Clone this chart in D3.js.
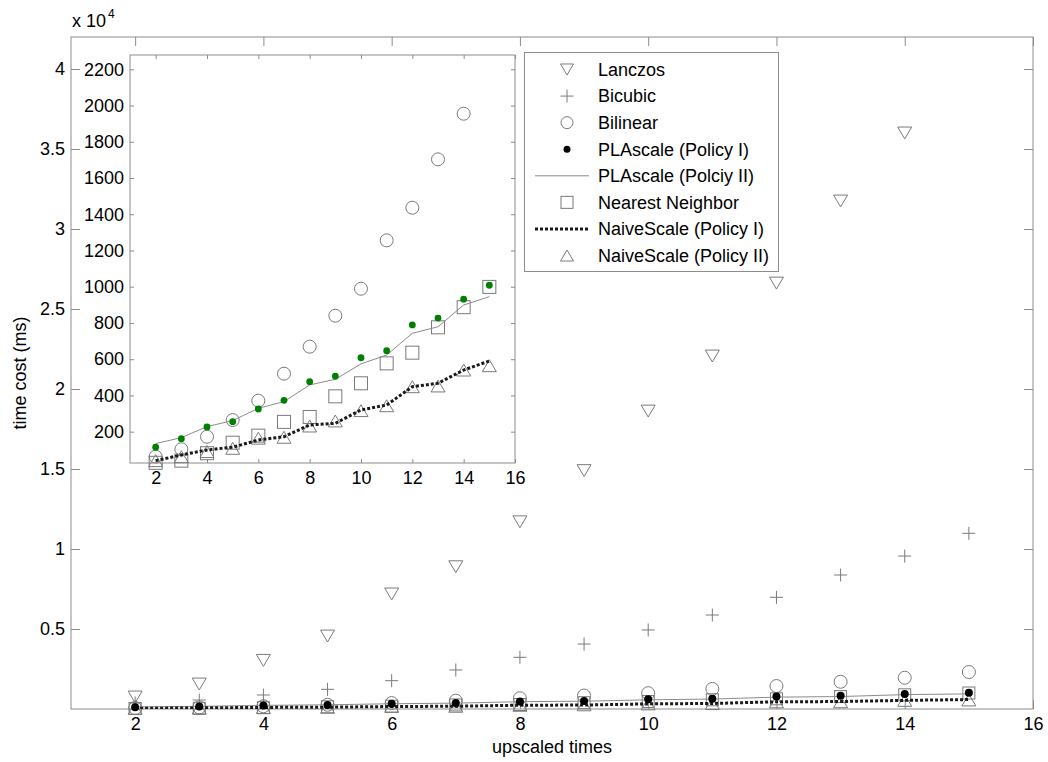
<!DOCTYPE html>
<html>
<head>
<meta charset="utf-8">
<script src="https://cdn.jsdelivr.net/npm/d3@7"></script>
<style>
  body { margin: 0; background: #fff; }
  text { font-family: "Liberation Sans", Arial, sans-serif; }
</style>
</head>
<body>
<script>
(function(d3) {
  // upscaling factor
  var times = [2, 3, 4, 5, 6, 7, 8, 9, 10, 11, 12, 13, 14, 15];

  // time cost (ms) per method
  var lanczos = [750, 1560, 3040, 4560, 7190, 8890, 11700, 14900, 18620, 22060, 26620, 31750, 36000, 43500];
  var bicubic = [375, 560, 875, 1230, 1770, 2440, 3230, 4060, 4940, 5875, 6980, 8375, 9560, 10980];
  var bilinear = [62, 103, 172, 264, 371, 520, 669, 840, 989, 1256, 1436, 1703, 1955, 2310];
  var plaPolicy1 = [114, 161, 226, 255, 325, 373, 476, 506, 608, 647, 789, 827, 931, 1008];
  var plaPolicy2 = [134, 167, 228, 261, 329, 366, 458, 489, 574, 623, 743, 779, 899, 945];
  var nearest = [28, 40, 81, 139, 178, 254, 281, 395, 467, 577, 636, 776, 887, 999];
  var naivePolicy1 = [40, 71, 99, 114, 154, 172, 237, 246, 320, 347, 448, 467, 540, 590];
  var naivePolicy2 = [40, 62, 90, 108, 164, 169, 231, 259, 316, 343, 448, 452, 540, 564];

  var xTicks = [2, 4, 6, 8, 10, 12, 14, 16];
  var mainYTicks = [5000, 10000, 15000, 20000, 25000, 30000, 35000, 40000];
  var insetYTicks = [200, 400, 600, 800, 1000, 1200, 1400, 1600, 1800, 2000, 2200];

  var legendLabels = ["Lanczos", "Bicubic", "Bilinear", "PLAscale (Policy I)", "PLAscale (Polciy II)",
    "Nearest Neighbor", "NaiveScale (Policy I)", "NaiveScale (Policy II)"];

  var width = 1048, height = 762;
  var axisColor = "#8c8c8c";
  var markColor = "#7a7a7a";

  var svg = d3.select("body").append("svg").attr("width", width).attr("height", height);

  function zip(vals) {
    return times.map(function(t, i) { return { x: t, y: vals[i] }; });
  }

  function marker(g, type, size) {
    var h = size / 2;
    if (type === "tridown") {
      g.append("path").attr("d", "M" + (-h) + "," + (-h * 0.85) + "L" + h + "," + (-h * 0.85) + "L0," + (h * 0.85) + "Z")
        .attr("fill", "none").attr("stroke", markColor);
    } else if (type === "triup") {
      g.append("path").attr("d", "M" + (-h) + "," + (h * 0.85) + "L" + h + "," + (h * 0.85) + "L0," + (-h * 0.85) + "Z")
        .attr("fill", "none").attr("stroke", markColor);
    } else if (type === "plus") {
      g.append("path").attr("d", "M" + (-h) + ",0H" + h + "M0," + (-h) + "V" + h)
        .attr("fill", "none").attr("stroke", markColor);
    } else if (type === "circle") {
      g.append("circle").attr("r", h).attr("fill", "none").attr("stroke", markColor);
    } else if (type === "square") {
      g.append("rect").attr("x", -h).attr("y", -h).attr("width", size).attr("height", size)
        .attr("fill", "none").attr("stroke", markColor);
    }
  }

  function drawAxes(g, x, y, yTicks, yFormat, tick) {
    var r = x.range(), b = y.range();
    g.append("rect").attr("x", r[0]).attr("y", b[1]).attr("width", r[1] - r[0]).attr("height", b[0] - b[1])
      .attr("fill", "#fff");
    var axes = [
      g.append("g").attr("transform", "translate(0," + b[0] + ")")
        .call(d3.axisBottom(x).tickValues(xTicks).tickSize(-tick).tickPadding(8)),
      g.append("g").attr("transform", "translate(0," + b[1] + ")")
        .call(d3.axisTop(x).tickValues(xTicks).tickSize(-tick).tickFormat("")),
      g.append("g").attr("transform", "translate(" + r[0] + ",0)")
        .call(d3.axisLeft(y).tickValues(yTicks).tickSize(-tick).tickPadding(6).tickFormat(yFormat)),
      g.append("g").attr("transform", "translate(" + r[1] + ",0)")
        .call(d3.axisRight(y).tickValues(yTicks).tickSize(-tick).tickFormat(""))
    ];
    axes.forEach(function(a) {
      a.select(".domain").remove();
      a.selectAll(".tick line").attr("stroke", axisColor);
      a.selectAll(".tick text").attr("fill", "#000").style("font-size", "18px");
    });
    g.append("rect").attr("x", r[0]).attr("y", b[1]).attr("width", r[1] - r[0]).attr("height", b[0] - b[1])
      .attr("fill", "none").attr("stroke", axisColor);
  }

  function drawSeries(g, x, y, id, series) {
    var r = x.range(), b = y.range();
    var dom = y.domain();
    svg.append("clipPath").attr("id", id).append("rect")
      .attr("x", r[0]).attr("y", b[1]).attr("width", r[1] - r[0]).attr("height", b[0] - b[1]);
    series.forEach(function(s) {
      var pts = zip(s.values);
      if (s.line) {
        var line = d3.line().x(function(d) { return x(d.x); }).y(function(d) { return y(d.y); });
        g.append("path").datum(pts).attr("d", line).attr("clip-path", "url(#" + id + ")")
          .attr("fill", "none").attr("stroke", s.line.color).attr("stroke-width", s.line.width)
          .attr("stroke-dasharray", s.line.dash || null);
      }
      if (s.marker) {
        pts.filter(function(d) { return d.y >= dom[0] && d.y <= dom[1]; }).forEach(function(d) {
          var m = g.append("g").attr("transform", "translate(" + x(d.x) + "," + y(d.y) + ")");
          if (s.marker === "dot") {
            m.append("circle").attr("r", s.r).attr("fill", s.fill);
          } else {
            marker(m, s.marker, s.size);
          }
        });
      }
    });
  }

  // main axes
  var xMain = d3.scaleLinear().domain([1, 16]).range([71, 1033]);
  var yMain = d3.scaleLinear().domain([0, 42000]).range([709, 37]);
  var gMain = svg.append("g");
  drawAxes(gMain, xMain, yMain, mainYTicks, function(d) { return d3.format("")(d / 1e4); }, 9);

  var dotted = { color: "#1a1a1a", width: 3, dash: "3,2" };
  var thin = { color: "#8c8c8c", width: 1 };
  drawSeries(gMain, xMain, yMain, "clipMain", [
    { values: lanczos, marker: "tridown", size: 14 },
    { values: bicubic, marker: "plus", size: 13 },
    { values: bilinear, marker: "circle", size: 13 },
    { values: nearest, marker: "square", size: 12 },
    { values: naivePolicy2, marker: "triup", size: 14 },
    { values: plaPolicy2, line: thin },
    { values: naivePolicy1, line: dotted },
    { values: plaPolicy1, marker: "dot", r: 4, fill: "#000" }
  ]);

  svg.append("text").attr("x", 72).attr("y", 27).style("font-size", "18px").text("x 10");
  svg.append("text").attr("x", 108).attr("y", 18).style("font-size", "12px").text("4");

  svg.append("text").attr("x", 552).attr("y", 753).attr("text-anchor", "middle")
    .style("font-size", "18px").text("upscaled times");
  svg.append("text").attr("transform", "translate(26,373) rotate(-90)").attr("text-anchor", "middle")
    .style("font-size", "18px").text("time cost (ms)");

  // inset axes
  var xIn = d3.scaleLinear().domain([1, 16]).range([130, 515]);
  var yIn = d3.scaleLinear().domain([27, 2279]).range([463, 55]);
  var gIn = svg.append("g");
  drawAxes(gIn, xIn, yIn, insetYTicks, d3.format(""), 4);
  drawSeries(gIn, xIn, yIn, "clipInset", [
    { values: bilinear, marker: "circle", size: 13 },
    { values: nearest, marker: "square", size: 13 },
    { values: naivePolicy2, marker: "triup", size: 14 },
    { values: plaPolicy2, line: thin },
    { values: naivePolicy1, line: dotted },
    { values: plaPolicy1, marker: "dot", r: 3.4, fill: "#008000" }
  ]);

  // legend
  var legendItems = [
    { marker: "tridown", size: 13 },
    { marker: "plus", size: 13 },
    { marker: "circle", size: 12 },
    { dot: true },
    { line: thin },
    { marker: "square", size: 12 },
    { line: dotted },
    { marker: "triup", size: 13 }
  ];
  var legendY = d3.scalePoint().domain(legendLabels).range([69.5, 255.5]);
  var gLeg = svg.append("g");
  gLeg.append("rect").attr("x", 524.5).attr("y", 52.5).attr("width", 254).attr("height", 219)
    .attr("fill", "#fff").attr("stroke", axisColor);
  legendLabels.forEach(function(label, i) {
    var item = legendItems[i];
    var cy = legendY(label);
    if (item.line) {
      gLeg.append("line").attr("x1", 535).attr("x2", 589).attr("y1", cy).attr("y2", cy)
        .attr("stroke", item.line.color).attr("stroke-width", item.line.width)
        .attr("stroke-dasharray", item.line.dash || null);
    } else {
      var m = gLeg.append("g").attr("transform", "translate(567," + cy + ")");
      if (item.dot) m.append("circle").attr("r", 3.5).attr("fill", "#000");
      else marker(m, item.marker, item.size);
    }
    gLeg.append("text").attr("x", 598).attr("y", cy).attr("dy", "0.35em")
      .style("font-size", "18px").text(label);
  });
})(d3);
</script>
</body>
</html>
